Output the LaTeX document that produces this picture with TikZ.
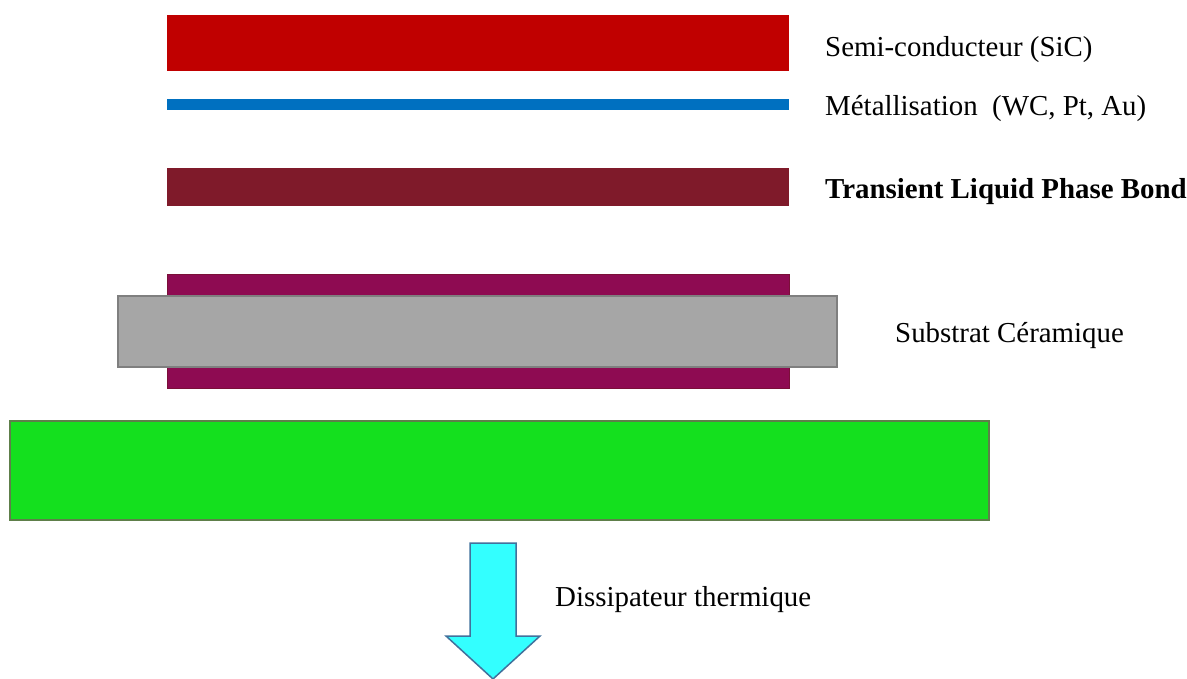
\documentclass[tikz,border=0pt]{standalone}
\usepackage{fontspec}
\setmainfont{Liberation Serif}
\begin{document}
\begin{tikzpicture}[x=1pt,y=-1pt,
  layer/.style={inner sep=0pt, outer sep=0pt, anchor=north west},
  lbl/.style={inner sep=0pt, anchor=base west, font=\fontsize{28.9}{32}\selectfont}]
\definecolor{sic}{HTML}{C00000}
\definecolor{metal}{HTML}{0070C0}
\definecolor{tlp}{HTML}{7F1A2A}
\definecolor{purp}{HTML}{8E0B52}
\definecolor{purpb}{HTML}{7A1038}
\definecolor{gris}{HTML}{A6A6A6}
\definecolor{grisb}{HTML}{7F7F7F}
\definecolor{vert}{HTML}{14E01E}
\definecolor{vertb}{HTML}{5E7F4A}
\definecolor{cyan1}{HTML}{33FFFF}
\definecolor{arrb}{HTML}{41719C}
\useasboundingbox (0,0) rectangle (1187,679);
% layers
\node[layer, fill=sic, minimum width=622pt, minimum height=56pt] (sic) at (167,15) {};
\node[layer, fill=metal, minimum width=622pt, minimum height=11pt] (met) at (167,99) {};
\node[layer, fill=tlp, minimum width=622pt, minimum height=38pt] (tlp) at (167,168) {};
\node[layer, fill=purp, draw=purpb, line width=1pt, minimum width=622pt, minimum height=113pt] (cu) at (167,275) {};
\node[layer, fill=gris, draw=grisb, line width=1.5pt, minimum width=719pt, minimum height=71pt] (sub) at (118,296) {};
\node[layer, fill=vert, draw=vertb, line width=1.5pt, minimum width=979pt, minimum height=99pt] (hs) at (10,421) {};
% arrow
\draw[fill=cyan1, draw=arrb, line width=1.5pt, line join=miter]
  (470,543) -- (516,543) -- (516,636) -- (540,636) -- (493,679) -- (446,636) -- (470,636) -- cycle;
% labels
\node[lbl] (l1) at (825,57) {Semi-conducteur (SiC)};
\node[lbl] (l2) at (825,116) {Métallisation\ \ (WC, Pt, Au)};
\node[lbl, font=\fontsize{28.9}{32}\selectfont\bfseries] (l3) at (825,199) {Transient Liquid Phase Bond};
\node[lbl] (l4) at (895,342) {Substrat Céramique};
\node[lbl] (l5) at (555,606) {Dissipateur thermique};
\end{tikzpicture}
\end{document}
